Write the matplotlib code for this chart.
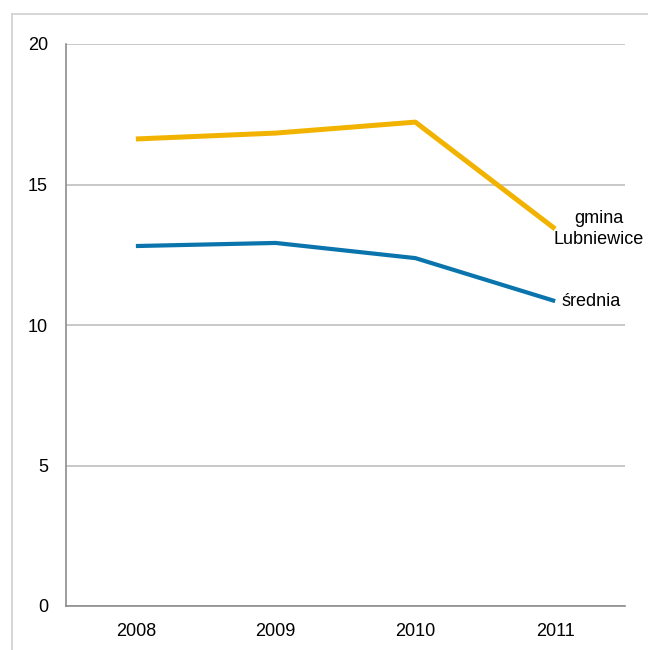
import matplotlib.pyplot as plt
from matplotlib.lines import Line2D

plt.rcParams['font.family'] = ['Liberation Sans', 'DejaVu Sans']

years = ['2008', '2009', '2010', '2011']
gmina = [16.62, 16.83, 17.22, 13.42]
srednia = [12.81, 12.92, 12.38, 10.85]

W, H = 648, 650
fig = plt.figure(figsize=(W / 100, H / 100), dpi=100)
ax = fig.add_axes([66 / W, 1 - 606 / H, (625 - 66) / W, (606 - 44) / H])

x = range(len(years))
ax.plot(x, gmina, color='#F2B300', lw=3.6, solid_capstyle='butt')
ax.plot(x, srednia, color='#0A74AD', lw=3.0, solid_capstyle='butt')

ax.set_xlim(-0.5, 3.5)
ax.set_ylim(0, 20)
ax.set_yticks([0, 5, 10, 15, 20])
ax.set_xticks(list(x))
ax.set_xticklabels(years)
ax.tick_params(length=0, labelsize=13, colors='black')
ax.tick_params(axis='y', pad=13)
ax.tick_params(axis='x', pad=12)
ax.yaxis.grid(True, color='#BFBFBF', lw=1.2)
ax.set_axisbelow(True)
for s in ['top', 'right']:
    ax.spines[s].set_visible(False)
for s in ['left', 'bottom']:
    ax.spines[s].set_color('#8C8C8C')
    ax.spines[s].set_linewidth(1.2)

ax.text(3.31, gmina[3], 'gmina\nLubniewice', ha='center', va='center',
        fontsize=13, linespacing=1.3)
ax.text(3.26, srednia[3], 'średnia', ha='center', va='center', fontsize=13)

# outer frame (top and left edges visible)
fig.add_artist(Line2D([12 / W, 12 / W], [0, 1 - 14 / H], color='#D0D0D0', lw=1.2,
                      transform=fig.transFigure))
fig.add_artist(Line2D([12 / W, 1], [1 - 14 / H, 1 - 14 / H], color='#D0D0D0', lw=1.2,
                      transform=fig.transFigure))

fig.savefig('out.png', dpi=100)
